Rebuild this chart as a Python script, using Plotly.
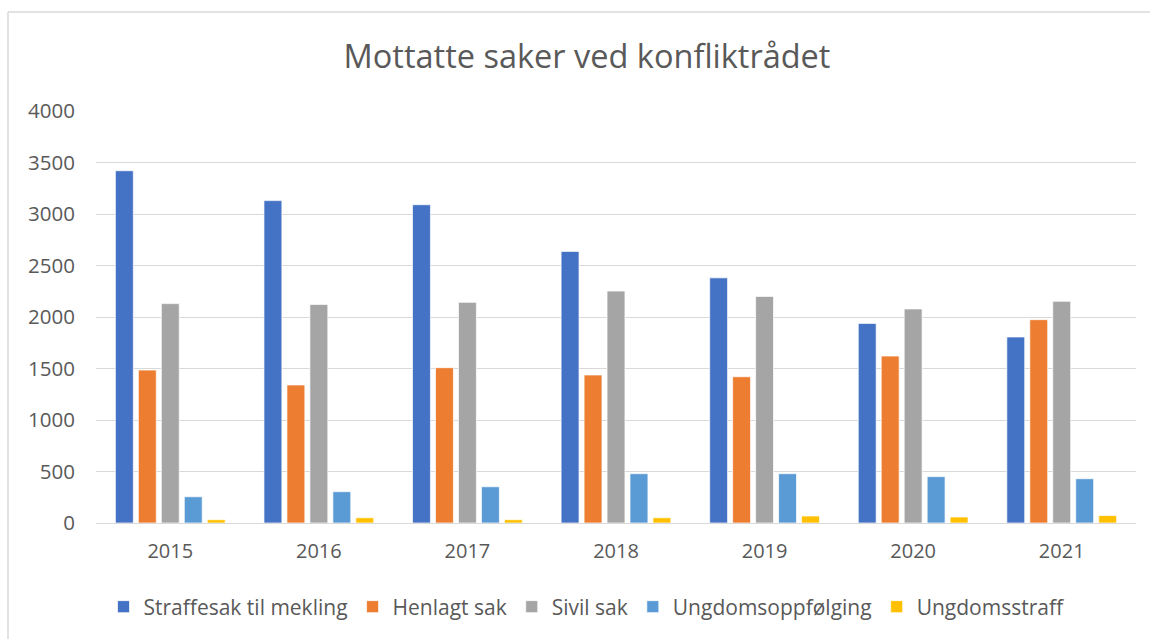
import plotly.graph_objects as go

years = ["2015", "2016", "2017", "2018", "2019", "2020", "2021"]
straffesak = [3420, 3130, 3090, 2637, 2380, 1938, 1806]
henlagt = [1485, 1340, 1508, 1437, 1420, 1621, 1974]
sivil = [2130, 2122, 2142, 2252, 2200, 2078, 2152]
ungdomsoppfolging = [255, 304, 352, 479, 479, 450, 430]
ungdomsstraff = [32, 51, 32, 51, 68, 58, 72]

series = [
    ("Straffesak til mekling", straffesak, "#4472C4"),
    ("Henlagt sak", henlagt, "#ED7D31"),
    ("Sivil sak", sivil, "#A5A5A5"),
    ("Ungdomsoppfølging", ungdomsoppfolging, "#5B9BD5"),
    ("Ungdomsstraff", ungdomsstraff, "#FFC000"),
]

font_family = "Open Sans"
text_color = "#595959"

fig = go.Figure()
for name, vals, color in series:
    fig.add_trace(go.Bar(
        x=years, y=vals, name=name,
        marker=dict(color=color, line=dict(color="rgba(255,255,255,0.7)", width=1)),
    ))

W, H = 1150, 639
ml, mr, mt, mb = 96, 14, 111, 116
pw = W - ml - mr
ph = H - mt - mb

def px_to_paper_x(px):
    return (px - ml) / pw

def px_to_paper_y(py):
    return (H - mb - py) / ph

fig.update_layout(
    width=W, height=H,
    margin=dict(l=ml, r=mr, t=mt, b=mb),
    paper_bgcolor="white", plot_bgcolor="white",
    barmode="group", bargap=0.227, bargroupgap=0.22,
    font=dict(family=font_family, color=text_color, size=20),
    title=dict(
        text="Mottatte saker ved konfliktrådet",
        x=587 / W, xanchor="center", xref="container",
        y=1 - 57 / H, yanchor="middle", yref="container",
        font=dict(family=font_family, size=32.5, color=text_color),
    ),
    xaxis=dict(
        showgrid=False, showline=True, linecolor="#d9d9d9", linewidth=1,
        ticks="", ticklabelstandoff=10, tickfont=dict(size=20, color=text_color),
    ),
    yaxis=dict(
        range=[0, 4000], dtick=500, showgrid=True, gridcolor="#d9d9d9", gridwidth=1,
        zeroline=False, showline=False, ticks="", ticklabelstandoff=20,
        tickfont=dict(size=20.5, color=text_color),
    ),
    legend=dict(
        orientation="h", xref="container", x=587 / W, xanchor="center",
        yref="container", y=1 - 607 / H, yanchor="middle",
        font=dict(size=21, color=text_color), itemwidth=30,
        traceorder="normal",
    ),
    showlegend=True,
)

# outer chart border (top and left visible)
fig.add_shape(type="line", xref="paper", yref="paper",
              x0=px_to_paper_x(8), x1=px_to_paper_x(1152),
              y0=px_to_paper_y(12), y1=px_to_paper_y(12),
              line=dict(color="#d9d9d9", width=1.5))
fig.add_shape(type="line", xref="paper", yref="paper",
              x0=px_to_paper_x(8), x1=px_to_paper_x(8),
              y0=px_to_paper_y(12), y1=px_to_paper_y(641),
              line=dict(color="#d9d9d9", width=1.5))

fig.write_html("out.html", config={"displayModeBar": False},
               post_script="document.body.style.margin='0';")
